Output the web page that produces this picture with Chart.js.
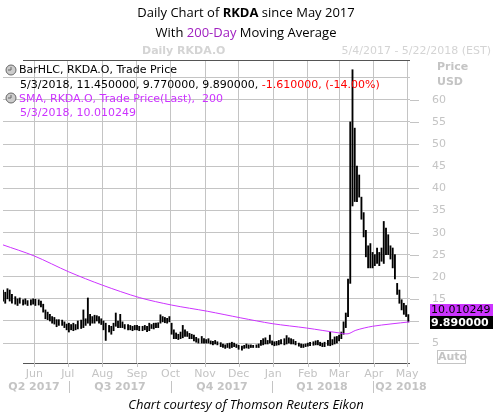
<!DOCTYPE html>
<html lang="en">
<head>
  <meta charset="UTF-8">
  <title>RKDA daily</title>
  <script src="https://cdn.jsdelivr.net/npm/chart.js"></script>
  <style>
    body { margin: 0; background: #fff; }
    #wrap { position: relative; width: 493px; height: 420px; }
  </style>
</head>
<body>
  <div id="wrap"><canvas id="chart" width="493" height="420"></canvas></div>

  <script>
    // day offsets from 5/4/2017
    const days = [0,2,4,6,8,11,13,15,18,20,22,25,27,29,32,34,36,38,40,42,44,46,48,50,53,55,57,59,61,63,65,67,70,72,74,76,78,80,82,84,86,88,90,92,95,97,99,101,103,105,107,109,112,114,116,118,120,122,125,127,129,131,133,135,137,139,141,143,145,147,149,151,153,155,157,159,161,163,165,167,169,171,173,175,178,180,182,184,186,188,190,192,195,197,199,201,203,205,207,209,211,214,216,218,220,222,224,227,229,231,233,235,237,239,241,243,245,247,249,252,254,256,258,260,262,265,267,269,271,273,275,278,280,282,284,286,288,291,293,295,297,299,301,303,305,307,309,311,313,315,317,319,321,323,325,327,329,331,333,335,337,339,341,343,345,347,349,351,353,355,357,359,361,363];
    const lows = [14.5,14,15,14.5,14,13.8,13.5,14,13.6,13.8,13.5,13.6,13.8,13.5,13.6,13.2,12,10.5,10.3,10,9.5,9.3,8.7,9,9,8.5,8,7.5,8,7.8,8,8.2,8.3,8.5,9,9.5,9,9.5,9.5,10,9.5,9.2,8,5.6,7.5,7,7.8,8.8,8.5,8.5,8.5,8.2,8,8,7.8,8,8,7.8,7.8,8,7.6,7.8,8.3,8.2,8.5,8.5,9.5,9.8,9.6,9.5,9.8,7,6,6,5.8,6,6.2,6.5,6.5,6,6,5.5,5.2,5,5,5,5,5,4.8,4.6,4.8,4.6,4.2,4,3.8,4,3.8,4,4.2,4,3.6,3.4,3.8,3.9,3.8,4,4,4,4,4.5,4.6,4.8,4.8,5,4.6,4.4,4.5,4.6,4.8,4.6,4.8,5,4.8,4.8,4.6,4.3,4,4,4.2,4.3,4.4,4.5,4.6,4.6,4.4,4.2,4.2,4.5,4.4,4.6,4.8,5,5.5,6,7,8.5,11,18.5,36,37,37,38,33,29,24.5,22,22,22,22.5,23,22.5,23.5,23,25,25,24,22,19.5,16,14,12.5,11.5,11,9.77];
    const highs = [17,16.5,17.3,17,16,15.5,15,15.2,14.8,15,14.6,14.8,15,14.9,14.8,14.5,13.8,12.5,12,11.5,11,10.8,10.3,10.3,10.2,9.8,9.3,9.5,9.2,9.5,9.2,10,10.2,12.5,10.5,15.2,11.5,11,11.3,11.2,11,10.5,10,9.5,9,8.8,9.5,11.8,10,11.5,9.8,9.2,9.2,9,8.8,9,9,8.8,8.8,9,8.8,9.5,9.2,9.5,9.5,9.6,11.4,11,10.8,10.6,11,9.5,8,7.3,7,7.5,9,8,7.6,7.2,7,6.8,6.3,6,6.5,6,5.8,6,5.5,5.4,5.6,5.3,5.1,4.8,4.6,4.9,5,5.2,5,4.7,4.5,4.3,4.5,4.8,4.6,4.6,4.5,4.6,4.8,5.6,6,6.2,5.6,6.8,5.5,5.3,5.4,5.6,5.8,6,6.7,6.2,6,5.8,5.4,5,4.8,4.7,4.8,5,5.2,5.3,5.5,5.6,5.2,5,5.2,5.6,7.5,5.8,6.4,6.5,6.8,7.5,9.8,11.8,19.5,55,66.8,53.6,45,43,38,34.5,30.5,27,27.5,25.5,25,26.5,25.5,26.5,32.5,31,29.5,27,26.5,25,18.5,17,14.8,14,13.5,11.45];
    const smaDays = [0,28,59,89,122,151,183,213,241,272,301,309,316,331,364];
    const smaValues = [27.2,24.7,21.1,18.1,15.3,13.6,12.2,10.7,9.4,8.4,7.3,7.1,7.9,8.8,9.8];
    const monthDays = [28,58,89,120,150,181,211,242,273,301,332,362];
    const monthLabels = ["Jun","Jul","Aug","Sep","Oct","Nov","Dec","Jan","Feb","Mar","Apr","May"];
    const quarterLabels = ["Q2 2017","Q3 2017","Q4 2017","Q1 2018","Q2 2018"];
    const priceTicks = [5,10,15,20,25,30,35,40,45,50,55,60];

    const gray = "#c4c4c4";
    const magenta = "#cc33ff";

    const decor = {
      id: "decor",
      afterDraw(chart) {
        const c = chart.ctx, x = chart.scales.x, y = chart.scales.y, a = chart.chartArea;
        c.save();
        // frame lines
        c.strokeStyle = "#555"; c.lineWidth = 1;
        c.beginPath(); c.moveTo(23, a.top + 0.5); c.lineTo(a.right, a.top + 0.5); c.stroke();
        c.beginPath(); c.moveTo(23, a.bottom + 0.5); c.lineTo(a.right, a.bottom + 0.5); c.stroke();
        c.strokeStyle = gray;
        monthDays.forEach(d => {
          const px = Math.round(x.getPixelForValue(d)) + 0.5;
          c.beginPath(); c.moveTo(px, a.bottom); c.lineTo(px, a.bottom + 4); c.stroke();
        });
        // y labels
        c.font = "11px 'DejaVu Sans'"; c.fillStyle = gray; c.textBaseline = "middle"; c.textAlign = "left";
        priceTicks.forEach(v => {
          const py = Math.round(y.getPixelForValue(v)) + 0.5;
          c.beginPath(); c.moveTo(a.right, py); c.lineTo(a.right + 9, py); c.stroke();
          c.fillText(String(v), a.right + 22, py);
        });
        c.font = "bold 11px 'DejaVu Sans'";
        c.fillText("Price", 437, 67); c.fillText("USD", 437, 82);
        // x labels
        c.font = "11px 'DejaVu Sans'"; c.textAlign = "center";
        monthDays.forEach((d, i) => c.fillText(monthLabels[i], x.getPixelForValue(d), 374));
        c.font = "bold 11px 'DejaVu Sans'";
        const qx = [34, 120, 222, 322, 401];
        quarterLabels.forEach((q, i) => c.fillText(q, qx[i], 387));
        [69, 171, 272, 373].forEach(px => c.fillRect(px, 381, 1, 12));
        // value boxes
        c.fillStyle = magenta; c.fillRect(430, 304, 63, 12);
        c.fillStyle = "#000"; c.fillRect(430, 316, 63, 13);
        c.font = "11px 'DejaVu Sans'"; c.textAlign = "left";
        c.fillStyle = "#000"; c.fillText("10.010249", 431, 310.5);
        c.font = "bold 11px 'DejaVu Sans'"; c.fillStyle = "#fff"; c.fillText("9.890000", 431, 323);
        c.strokeStyle = gray; c.strokeRect(437.5, 350.5, 28, 13);
        c.fillStyle = gray; c.fillText("Auto", 438, 357.5);
        // legend
        [[11, 70], [11, 98]].forEach(([cx, cy]) => {
          c.beginPath(); c.arc(cx, cy, 5, 0, Math.PI * 2);
          c.fillStyle = "#ccc"; c.fill(); c.strokeStyle = "#666"; c.stroke();
          c.beginPath(); c.moveTo(cx - 3, cy); c.lineTo(cx, cy); c.lineTo(cx, cy - 3); c.stroke();
        });
        c.font = "11px 'DejaVu Sans'";
        c.fillStyle = "#000"; c.fillText("BarHLC, RKDA.O, Trade Price", 19, 70);
        let t = "5/3/2018, 11.450000, 9.770000, 9.890000, ";
        c.fillText(t, 20, 85);
        c.fillStyle = "#f00"; c.fillText("-1.610000, (-14.00%)", 20 + c.measureText(t).width, 85);
        c.fillStyle = magenta;
        c.fillText("SMA, RKDA.O, Trade Price(Last),  200", 19, 99);
        c.fillText("5/3/2018, 10.010249", 20, 113);
        // titles
        c.textAlign = "left"; c.fillStyle = "#000";
        const l1a = "Daily Chart of ", l1b = "RKDA", l1c = " since May 2017";
        c.font = "13px 'Open Sans'"; let w1 = c.measureText(l1a + l1c).width;
        c.font = "bold 13px 'Open Sans'"; w1 += c.measureText(l1b).width;
        let sx = 246 - w1 / 2;
        c.font = "13px 'Open Sans'"; c.fillText(l1a, sx, 13); sx += c.measureText(l1a).width;
        c.font = "bold 13px 'Open Sans'"; c.fillText(l1b, sx, 13); sx += c.measureText(l1b).width;
        c.font = "13px 'Open Sans'"; c.fillText(l1c, sx, 13);
        const l2a = "With ", l2b = "200-Day", l2c = " Moving Average";
        sx = 246 - c.measureText(l2a + l2b + l2c).width / 2;
        c.fillText(l2a, sx, 33); sx += c.measureText(l2a).width;
        c.fillStyle = "#a020c0"; c.fillText(l2b, sx, 33); sx += c.measureText(l2b).width;
        c.fillStyle = "#000"; c.fillText(l2c, sx, 33);
        c.font = "bold 11px 'DejaVu Sans'"; c.fillStyle = "#d4d4d4";
        c.fillText("Daily RKDA.O", 142, 51);
        c.font = "11px 'DejaVu Sans'"; c.textAlign = "right";
        c.fillText("5/4/2017 - 5/22/2018 (EST)", 491, 51);
        c.textAlign = "center"; c.fillStyle = "#000"; c.font = "italic 13px 'Open Sans'";
        c.fillText("Chart courtesy of Thomson Reuters Eikon", 246, 405);
        c.restore();
      }
    };

    new Chart(document.getElementById("chart"), {
      type: "bar",
      data: {
        datasets: [{
          type: "line",
          data: smaDays.map((d, i) => ({ x: d, y: smaValues[i] })),
          borderColor: magenta, borderWidth: 1, pointRadius: 0, tension: 0.3
        }, {
          data: days.map((d, i) => ({ x: d, y: [lows[i], highs[i]] })),
          backgroundColor: "#000", barThickness: 1.2
        }]
      },
      options: {
        responsive: false, animation: false,
        layout: { padding: { left: 3, top: 60, right: 83, bottom: 57 } },
        plugins: { legend: { display: false }, tooltip: { enabled: false } },
        scales: {
          x: {
            type: "linear", min: 0, max: 364.5, offset: false,
            afterBuildTicks: s => { s.ticks = monthDays.map(v => ({ value: v })); },
            afterFit: s => { s.height = 0; },
            ticks: { display: false }, border: { display: false },
            grid: { color: gray, drawTicks: false, offset: false }
          },
          y: {
            position: "right", min: 0.5, max: 69,
            afterBuildTicks: s => { s.ticks = [...priceTicks, 65].map(v => ({ value: v })); },
            afterFit: s => { s.width = 0; },
            ticks: { display: false }, border: { display: false },
            grid: { color: gray, drawTicks: false }
          }
        }
      },
      plugins: [decor]
    });
  </script>
</body>
</html>
